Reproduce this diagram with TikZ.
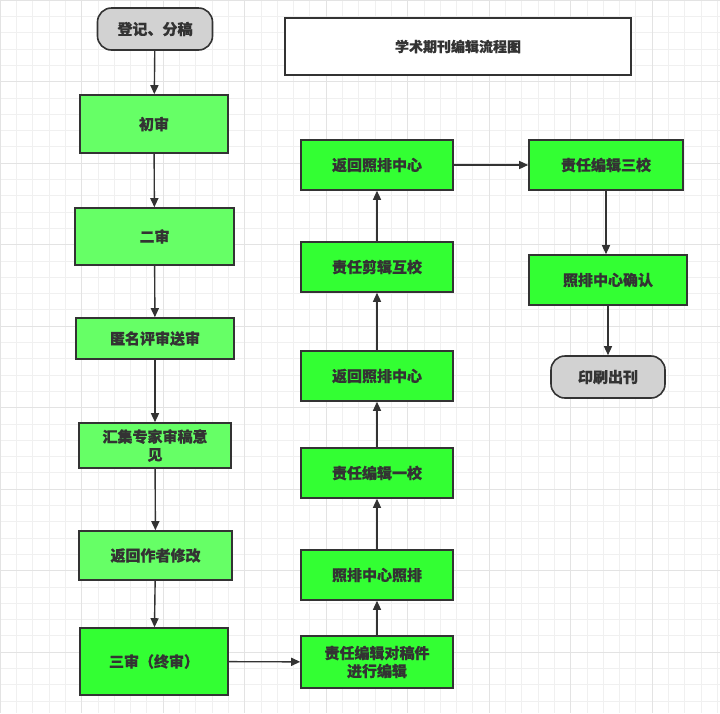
\documentclass[tikz,border=0pt]{standalone}
\usepackage{fontspec}
\setmainfont{Noto Sans CJK SC}[FakeBold=0.6]
\usetikzlibrary{arrows.meta}
\definecolor{lg}{HTML}{66FF66}
\definecolor{bg}{HTML}{33FF33}
\definecolor{ln}{HTML}{333333}
\begin{document}
\begin{tikzpicture}[x=1pt,y=-1pt,
  box/.style={draw=ln,line width=1.6pt,fill=bg,minimum width=152pt,minimum height=50pt,align=center,font=\fontsize{15}{18}\selectfont\bfseries,text=ln},
  lbox/.style={box,fill=lg},
  term/.style={box,fill=gray!35,rounded corners=14pt,minimum width=115pt,minimum height=42pt},
  arr/.style={draw=ln,line width=1.4pt,-{Triangle[length=9pt,width=8pt]}}]
\useasboundingbox (0,0) rectangle (720,713);
\fill[white] (0,0) rectangle (720,713);
\foreach \i in {0,...,44} {
  \draw[gray!12,line width=0.5pt] (\i*16.3,0) -- (\i*16.3,713);
  \draw[gray!12,line width=0.5pt] (0,\i*16.3) -- (720,\i*16.3);}
\foreach \i in {0,...,8} {
  \draw[gray!22,line width=0.7pt] (\i*81.5,0) -- (\i*81.5,713);
  \draw[gray!22,line width=0.7pt] (0,\i*81.5) -- (720,\i*81.5);}
\node[draw=ln,line width=1.2pt,fill=white,minimum width=346pt,minimum height=57pt,font=\fontsize{14}{17}\selectfont\bfseries,text=ln] (title) at (458,46.5) {学术期刊编辑流程图};
\node[term] (s) at (155,29) {登记、分稿};
\node[lbox,minimum width=148pt,minimum height=58pt] (a1) at (154,124) {初审};
\node[lbox,minimum width=159pt,minimum height=57pt] (a2) at (154.5,236.5) {二审};
\node[lbox,minimum width=158pt,minimum height=41pt] (a3) at (155,338.5) {匿名评审送审};
\node[lbox,minimum width=152pt,minimum height=45pt] (a4) at (155,445.5) {汇集专家审稿意\\见};
\node[lbox,minimum width=153pt,minimum height=49pt] (a5) at (155.5,555.5) {返回作者修改};
\node[box,minimum width=148pt,minimum height=67pt] (a6) at (154,661.5) {三审（终审）};
\node[box,minimum height=52pt] (b1) at (377,662) {责任编辑对稿件\\进行编辑};
\node[box] (b2) at (377,575) {照排中心照排};
\node[box] (b3) at (377,473) {责任编辑一校};
\node[box] (b4) at (377,376) {返回照排中心};
\node[box] (b5) at (377,267) {责任剪辑互校};
\node[box] (b6) at (377,165) {返回照排中心};
\node[box,minimum width=154pt] (c1) at (606,165) {责任编辑三校};
\node[box,minimum width=158pt] (c2) at (608,280) {照排中心确认};
\node[term,minimum width=114pt] (e) at (608,377) {印刷出刊};
\draw[arr] (s) -- (a1);
\draw[arr] (a1) -- (a2);
\draw[arr] (a2) -- (a3);
\draw[arr] (a3) -- (a4);
\draw[arr] (a4) -- (a5);
\draw[arr] (a5) -- (a6);
\draw[arr] (a6) -- (b1);
\draw[arr] (b1) -- (b2);
\draw[arr] (b2) -- (b3);
\draw[arr] (b3) -- (b4);
\draw[arr] (b4) -- (b5);
\draw[arr] (b5) -- (b6);
\draw[arr] (b6) -- (c1);
\draw[arr] (c1.south) -- (c1.south |- c2.north);
\draw[arr] (c2) -- (e);
\end{tikzpicture}
\end{document}
